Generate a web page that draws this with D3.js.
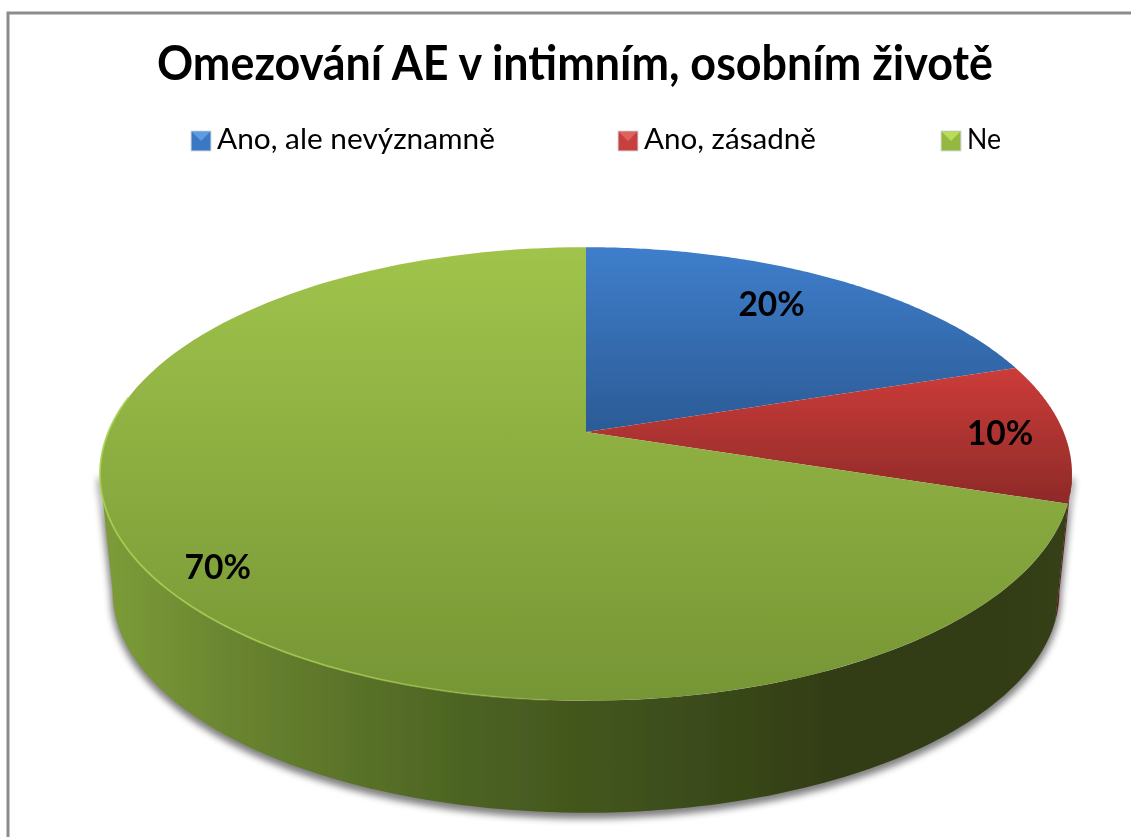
<!DOCTYPE html>
<html>
<head>
<meta charset="utf-8">
<script src="https://cdn.jsdelivr.net/npm/d3@7"></script>
<style>
  html, body { margin: 0; padding: 0; background: #fff; }
  svg { display: block; }
  text { font-family: Lato, "Open Sans", sans-serif; fill: #000; }
</style>
</head>
<body>
<div id="root"></div>
<script>
const title = "Omezování AE v intimním, osobním životě";
const categories = ["Ano, ale nevýznamně", "Ano, zásadně", "Ne"];
const values = [20, 10, 70];
const labels = ["20%", "10%", "70%"];

const width = 1131;
const height = 837;

// the pie is tilted, so the circle goes through a small perspective map.
// k moves the apex above the middle of the ellipse
const cx = 586;
const apexY = 432;
const rx = 477.6;
const ry = 219;
const k = 0.185;
const floorY = 551;
const floorScale = 0.974;

const project = (a, r = 1, cy = apexY, s = 1) => {
  const u = Math.sin(a) * r;
  const v = Math.cos(a) * r;
  const w = 1 + k * v;
  return [cx + (s * rx * u) / w, cy - (s * ry * v) / w];
};

const arcPoints = (a0, a1, cy, s) =>
  d3.range(0, 121).map((i) => project(a0 + ((a1 - a0) * i) / 120, 1, cy, s));

const line = d3.line();

const svg = d3
  .select("#root")
  .append("svg")
  .attr("width", width)
  .attr("height", height);

const defs = svg.append("defs");

const gradient = (id, horizontal, from, to, stops, opacities) => {
  const g = defs
    .append("linearGradient")
    .attr("id", id)
    .attr("gradientUnits", "userSpaceOnUse")
    .attr("x1", horizontal ? from : 0)
    .attr("x2", horizontal ? to : 0)
    .attr("y1", horizontal ? 0 : from)
    .attr("y2", horizontal ? 0 : to);
  stops.forEach((c, i) =>
    g
      .append("stop")
      .attr("offset", i / (stops.length - 1))
      .attr("stop-color", c)
      .attr("stop-opacity", opacities ? opacities[i] : 1)
  );
};

gradient("top0", false, 247, 432, ["#3f7ecc", "#2b5b96"]);
gradient("top1", false, 368, 503, ["#cc3c39", "#8e2a28"]);
gradient("top2", false, 247, 701, ["#a0c44b", "#769535"]);
gradient("wall", true, 112, 1060, [
  "#7b9b38",
  "#6a8530",
  "#5a7329",
  "#4c6322",
  "#43561e",
  "#3a4b1a",
  "#333e16",
  "#323d16",
  "#343f17",
]);
gradient("icon0", false, 131, 151, ["#3b78c4", "#24508a"]);
gradient("icon1", false, 131, 151, ["#c8403c", "#842624"]);
gradient("icon2", false, 131, 151, ["#94b842", "#64822c"]);
gradient("rim", true, 100, 640, ["#a9d153", "#a9d153", "#a9d153"], [0.9, 0.7, 0]);

const blur = defs.append("filter").attr("id", "shadow");
blur.append("feGaussianBlur").attr("stdDeviation", 3.5);
const soft = defs.append("filter").attr("id", "soft");
soft.append("feGaussianBlur").attr("stdDeviation", 0.6);

const root = svg.append("g").attr("filter", "url(#soft)");

// frame, open on the right and bottom
root
  .append("path")
  .attr("d", `M8,${height}V13H${width}`)
  .attr("fill", "none")
  .attr("stroke", "#8c8c8c")
  .attr("stroke-width", 3);

const pie = d3
  .pie()
  .sort(null)
  .startAngle(0)
  .endAngle(2 * Math.PI);
const slices = pie(values);

// the wall is only seen between the two outer points of the ellipse
const edgeR = Math.PI - Math.asin(Math.sqrt(1 - k * k));
const edgeL = 2 * Math.PI - edgeR;

const wallPath = (a0, a1) =>
  line(
    arcPoints(a0, a1, apexY, 1).concat(
      arcPoints(a1, a0, floorY, floorScale)
    )
  ) + "Z";

root
  .append("path")
  .attr("d", wallPath(edgeR, edgeL))
  .attr("transform", "translate(0,4)")
  .attr("fill", "#000")
  .attr("stroke", "#000")
  .attr("stroke-width", 4)
  .attr("opacity", 0.5)
  .attr("filter", "url(#shadow)");

root
  .append("path")
  .attr("d", wallPath(edgeR, slices[2].startAngle))
  .attr("fill", "#5e1a18");
root
  .append("path")
  .attr("d", wallPath(slices[2].startAngle, edgeL))
  .attr("fill", "url(#wall)");

root
  .selectAll("path.slice")
  .data(slices)
  .enter()
  .append("path")
  .attr("class", "slice")
  .attr(
    "d",
    (d) =>
      line(
        [project(0, 0)].concat(
          arcPoints(d.startAngle, d.endAngle, apexY, 1)
        )
      ) + "Z"
  )
  .attr("fill", (d, i) => `url(#top${i})`);

// light rim on the front left of the top, fades out towards the middle
root
  .append("path")
  .attr("d", line(arcPoints(Math.PI * 1.02, edgeL + 0.35, apexY, 1)))
  .attr("fill", "none")
  .attr("stroke", "url(#rim)")
  .attr("stroke-width", 1.8);

// radius along the slice middle, then a small nudge
const labelAt = [
  [0.8, -15, 11],
  [0.867, 0, 13],
  [0.87, 3, 23],
];

root
  .selectAll("text.label")
  .data(slices)
  .enter()
  .append("text")
  .attr("class", "label")
  .attr("x", (d, i) => project((d.startAngle + d.endAngle) / 2, labelAt[i][0])[0] + labelAt[i][1])
  .attr("y", (d, i) => project((d.startAngle + d.endAngle) / 2, labelAt[i][0])[1] + labelAt[i][2])
  .attr("text-anchor", "middle")
  .attr("font-size", 33.5)
  .attr("font-weight", 700)
  .text((d, i) => labels[i]);

root
  .append("text")
  .attr("x", 157)
  .attr("y", 80)
  .attr("font-size", 47)
  .attr("font-weight", 700)
  .attr("textLength", 836)
  .attr("lengthAdjust", "spacingAndGlyphs")
  .text(title);

// legend
const legendX = d3.scaleOrdinal().domain(categories).range([191, 618, 941]);
const legendW = d3.scaleOrdinal().domain(categories).range([278, 172, 34]);
const iconTop = ["#5c9ce2", "#e0625e", "#bcdc58"];
const iconSize = 20;
const iconY = 131;

const legend = root
  .selectAll("g.legend")
  .data(categories)
  .enter()
  .append("g")
  .attr("class", "legend")
  .attr("transform", (d) => `translate(${legendX(d)},${iconY})`);

legend
  .append("rect")
  .attr("width", iconSize)
  .attr("height", iconSize)
  .attr("fill", (d, i) => `url(#icon${i})`)
  .attr("stroke", "#d8dde4")
  .attr("stroke-width", 1);

legend
  .append("path")
  .attr("d", line([[1, 1], [iconSize - 1, 1], [iconSize / 2, iconSize / 2]]) + "Z")
  .attr("fill", (d, i) => iconTop[i]);

legend
  .append("text")
  .attr("x", iconSize + 6)
  .attr("y", 18)
  .attr("font-size", 28.5)
  .attr("textLength", (d) => legendW(d))
  .attr("lengthAdjust", "spacingAndGlyphs")
  .text((d) => d);
</script>
</body>
</html>
